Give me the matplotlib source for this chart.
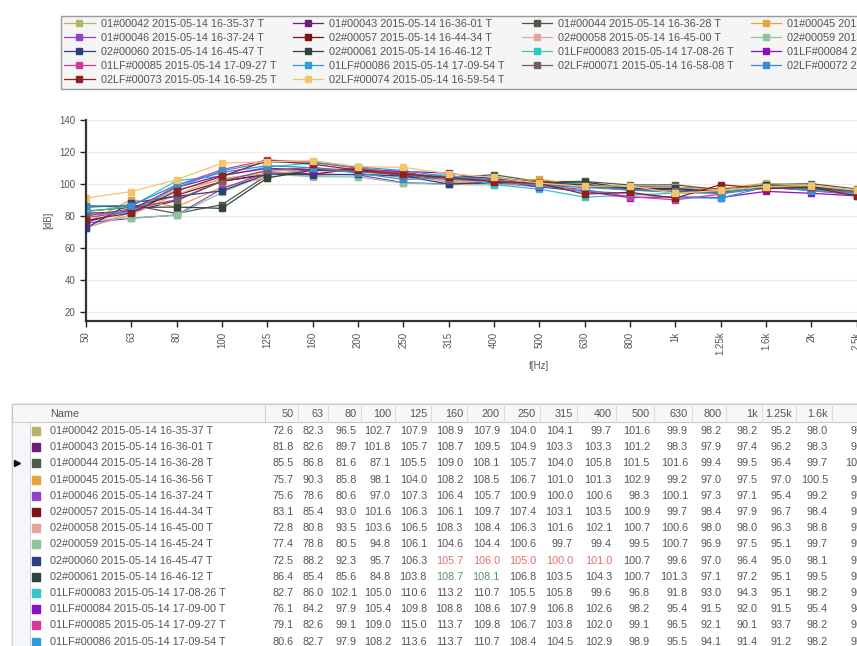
import numpy as np
import matplotlib.pyplot as plt
from matplotlib.patches import Rectangle

plt.rcParams['font.family'] = ['Liberation Sans', 'DejaVu Sans']

freqs = ['50', '63', '80', '100', '125', '160', '200', '250', '315', '400',
         '500', '630', '800', '1k', '1.25k', '1.6k', '2k', '2.5k']

names = ['01#00042 2015-05-14 16-35-37 T', '01#00043 2015-05-14 16-36-01 T',
         '01#00044 2015-05-14 16-36-28 T', '01#00045 2015-05-14 16-36-56 T',
         '01#00046 2015-05-14 16-37-24 T', '02#00057 2015-05-14 16-44-34 T',
         '02#00058 2015-05-14 16-45-00 T', '02#00059 2015-05-14 16-45-24 T',
         '02#00060 2015-05-14 16-45-47 T', '02#00061 2015-05-14 16-46-12 T',
         '01LF#00083 2015-05-14 17-08-26 T', '01LF#00084 2015-05-14 17-09-00 T',
         '01LF#00085 2015-05-14 17-09-27 T', '01LF#00086 2015-05-14 17-09-54 T',
         '02LF#00071 2015-05-14 16-58-08 T', '02LF#00072 2015-05-14 16-58-33 T',
         '02LF#00073 2015-05-14 16-59-25 T', '02LF#00074 2015-05-14 16-59-54 T']

colors = ['#b9b46c', '#6b1f7b', '#4f5b4a', '#e8a33a', '#8e44c8', '#7b1414',
          '#e6a39a', '#8fc39a', '#2e3f80', '#2f4440', '#33c6c6', '#8b0fc4',
          '#d6389a', '#2f9ed8', '#7c5a6a', '#3a8ccc', '#902020', '#f3c46a']

s42 = [72.6, 82.3, 96.5, 102.7, 107.9, 108.9, 107.9, 104.0, 104.1, 99.7, 101.6, 99.9, 98.2, 98.2, 95.2, 98.0, 97.5, 95.8]
s43 = [81.8, 82.6, 89.7, 101.8, 105.7, 108.7, 109.5, 104.9, 103.3, 103.3, 101.2, 98.3, 97.9, 97.4, 96.2, 98.3, 96.8, 95.1]
s44 = [85.5, 86.8, 81.6, 87.1, 105.5, 109.0, 108.1, 105.7, 104.0, 105.8, 101.5, 101.6, 99.4, 99.5, 96.4, 99.7, 100.2, 96.9]
s45 = [75.7, 90.3, 85.8, 98.1, 104.0, 108.2, 108.5, 106.7, 101.0, 101.3, 102.9, 99.2, 97.0, 97.5, 97.0, 100.5, 98.9, 96.5]
s46 = [75.6, 78.6, 80.6, 97.0, 107.3, 106.4, 105.7, 100.9, 100.0, 100.6, 98.3, 100.1, 97.3, 97.1, 95.4, 99.2, 97.9, 94.8]
s57 = [83.1, 85.4, 93.0, 101.6, 106.3, 106.1, 109.7, 107.4, 103.1, 103.5, 100.9, 99.7, 98.4, 97.9, 96.7, 98.4, 98.5, 95.6]
s58 = [72.8, 80.8, 93.5, 103.6, 106.5, 108.3, 108.4, 106.3, 101.6, 102.1, 100.7, 100.6, 98.0, 98.0, 96.3, 98.8, 97.2, 95.9]
s59 = [77.4, 78.8, 80.5, 94.8, 106.1, 104.6, 104.4, 100.6, 99.7, 99.4, 99.5, 100.7, 96.9, 97.5, 95.1, 99.7, 99.1, 96.2]
s60 = [72.5, 88.2, 92.3, 95.7, 106.3, 105.7, 106.0, 105.0, 100.0, 101.0, 100.7, 99.6, 97.0, 96.4, 95.0, 98.1, 97.6, 94.9]
s61 = [86.4, 85.4, 85.6, 84.8, 103.8, 108.7, 108.1, 106.8, 103.5, 104.3, 100.7, 101.3, 97.1, 97.2, 95.1, 99.5, 98.3, 95.7]
s83 = [82.7, 86.0, 102.1, 105.0, 110.6, 113.2, 110.7, 105.5, 105.8, 99.6, 96.8, 91.8, 93.0, 94.3, 95.1, 98.2, 96.4, 93.8]
s84 = [76.1, 84.2, 97.9, 105.4, 109.8, 108.8, 108.6, 107.9, 106.8, 102.6, 98.2, 95.4, 91.5, 92.0, 91.5, 95.4, 94.2, 92.6]
s85 = [79.1, 82.6, 99.1, 109.0, 115.0, 113.7, 109.8, 106.7, 103.8, 102.0, 99.1, 96.5, 92.1, 90.1, 93.7, 98.2, 96.0, 93.1]
s86 = [80.6, 82.7, 97.9, 108.2, 113.6, 113.7, 110.7, 108.4, 104.5, 102.9, 98.9, 95.5, 94.1, 91.4, 91.2, 98.2, 95.7, 94.0]
s71 = [80.0, 84.5, 90.2, 101.8, 108.6, 110.3, 107.9, 105.6, 102.8, 101.9, 100.2, 98.6, 96.1, 95.4, 94.6, 97.3, 97.0, 95.0]
s72 = [86.1, 86.5, 99.4, 107.2, 111.5, 110.2, 106.8, 102.9, 103.7, 102.1, 99.2, 97.8, 96.4, 94.7, 94.1, 97.8, 96.5, 94.5]
s73 = [77.3, 81.9, 95.6, 104.8, 114.6, 112.4, 108.7, 106.1, 104.2, 101.5, 100.4, 93.7, 94.8, 91.2, 99.6, 97.1, 98.0, 92.5]
s74 = [91.2, 95.3, 102.7, 113.1, 113.9, 114.6, 110.9, 110.4, 106.5, 104.1, 100.6, 98.5, 98.9, 94.1, 96.0, 98.4, 99.0, 96.0]

series = [s42, s43, s44, s45, s46, s57, s58, s59, s60, s61,
          s83, s84, s85, s86, s71, s72, s73, s74]

W, H = 857, 646
FS = 7.8
fig = plt.figure(figsize=(W / 100, H / 100), dpi=100)

# ---- chart ----
x0, ytop, ybot, step = 86, 120, 321, 45.33
nx = 18
ax = fig.add_axes([x0 / W, (H - ybot) / H, nx * step / W, (ybot - ytop) / H])
xs = np.arange(len(freqs))
handles = []
for vals, c, n in zip(series, colors, names):
    h, = ax.plot(xs, vals, color=c, lw=0.9, marker='s', ms=4.5, mec=c, label=n)
    handles.append(h)
ax.set_xlim(0, nx)
ax.set_ylim(14.4, 140)
ax.set_yticks([20, 40, 60, 80, 100, 120, 140])
ax.set_xticks(xs)
ax.set_xticklabels(freqs, rotation=90)
ax.tick_params(labelsize=7, colors='#222', labelcolor='#555', length=4, width=1)
for s in ['top', 'right']:
    ax.spines[s].set_visible(False)
for s in ['left', 'bottom']:
    ax.spines[s].set_color('#333')
    ax.spines[s].set_linewidth(1.6)
ax.yaxis.grid(True, color='#ebebeb', lw=0.8)
ax.set_axisbelow(True)
ax.set_ylabel('[dB]', fontsize=7, color='#555')
ax.yaxis.set_label_coords(-0.04, 0.5)
ax.set_xlabel('f[Hz]', fontsize=7, color='#555')
ax.xaxis.set_label_coords(10 / nx, -0.2)

# legend, filled row by row in 4 columns
ncol = 4
order = [i for c in range(ncol) for i in range(c, len(handles), ncol)]
leg = fig.legend([handles[i] for i in order], [names[i] for i in order],
                 ncol=ncol, loc='upper left', bbox_to_anchor=(61 / W, 1 - 16 / H),
                 borderaxespad=0, fontsize=FS, frameon=True, fancybox=False,
                 edgecolor='#9a9a9a', facecolor='#f5f5f5', framealpha=1,
                 handlelength=2.8, handletextpad=0.55, columnspacing=1.55,
                 labelspacing=0.37, borderpad=0.3)
for t in leg.get_texts():
    t.set_color('#555')

# ---- table ----
tb = fig.add_axes([0, 0, 1, 1], zorder=-1)
tb.set_xlim(0, W)
tb.set_ylim(H, 0)
tb.axis('off')

col_right = [294, 324, 357, 391, 427, 463, 500, 536, 573, 612, 650, 688, 722, 758, 792, 828, 872]
head_y, row0, rh = 414, 431, 16.2
top = 404

tb.add_patch(Rectangle((12, top), 900, 300, fc='white', ec='#a8a8a8', lw=1))
tb.add_patch(Rectangle((12, top), 900, head_y + 8 - top, fc='#f7f7f7', ec='#c8c8c8', lw=0.8))
tb.add_patch(Rectangle((12, head_y + 8), 18, 300, fc='#f4f6f9', ec='#d0d4da', lw=0.8))
tb.plot([265, 265], [top, head_y + 8], color='#d0d0d0', lw=0.8)
for r in col_right:
    tb.plot([r + 4, r + 4], [top, head_y + 8], color='#dcdcdc', lw=0.8)

tb.text(50, head_y, 'Name', fontsize=FS, color='#555', va='center')
for f, r in zip(freqs, col_right):
    tb.text(r, head_y, f, fontsize=FS, color='#555', va='center', ha='right')

for i in range(14):
    y = row0 + i * rh
    tb.plot([36], [y], marker='s', ms=6, color=colors[i], mec=colors[i])
    tb.text(50, y, names[i], fontsize=FS, color='#555', va='center')
    for j, r in enumerate(col_right):
        c = '#555'
        if i == 8 and 5 <= j <= 9:
            c = '#e07070'
        elif i == 9 and 5 <= j <= 6:
            c = '#5f8f70'
        tb.text(r, y, f'{series[i][j]:.1f}', fontsize=FS, color=c, va='center', ha='right')
tb.plot([17], [row0 + 2 * rh], marker='>', ms=4, color='#111')

fig.savefig('out.png', dpi=100)
